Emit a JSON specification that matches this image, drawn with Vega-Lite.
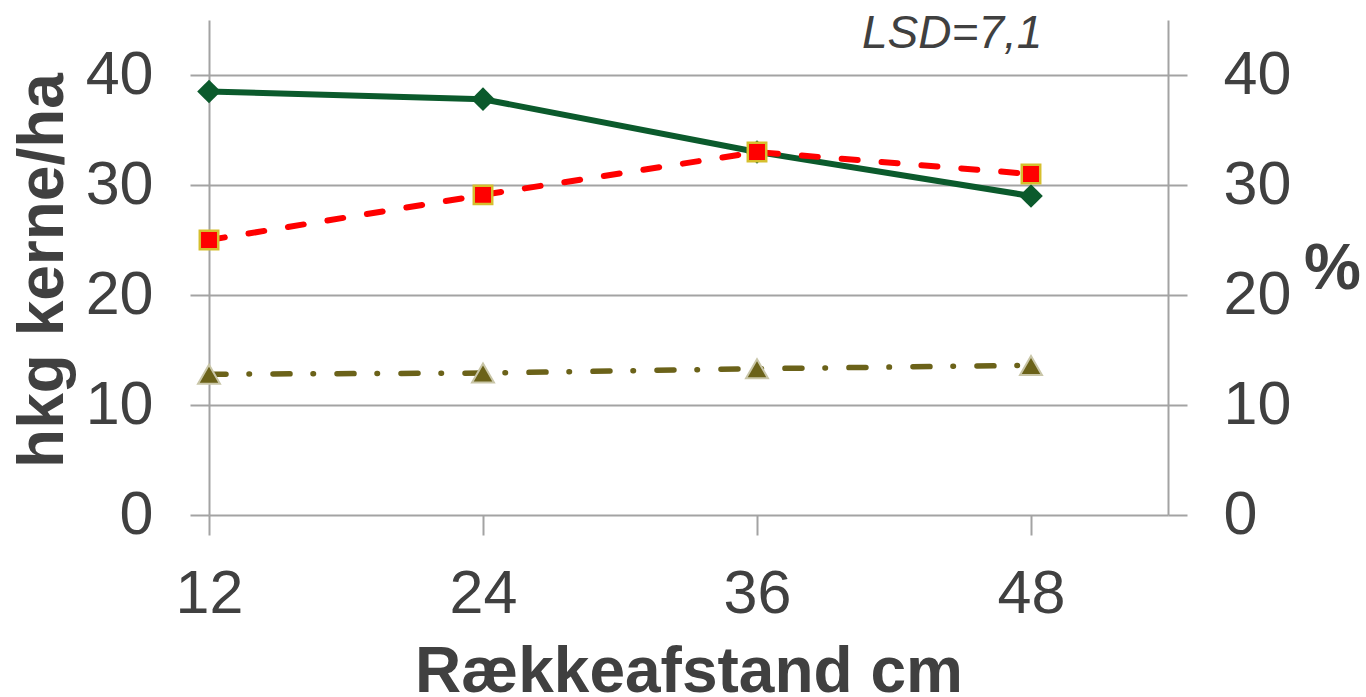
{
  "$schema": "https://vega.github.io/schema/vega-lite/v6.json",
  "width": 959,
  "height": 495,
  "autosize": {"type": "none"},
  "padding": {"left": 209, "top": 20, "right": 198, "bottom": 182},
  "background": "white",
  "config": {
    "view": {"stroke": null},
    "font": "Liberation Sans",
    "axis": {
      "labelFont": "Liberation Sans",
      "titleFont": "Liberation Sans",
      "labelColor": "#404040",
      "titleColor": "#404040",
      "labelFontSize": 61,
      "titleFontSize": 64,
      "titleFontWeight": "bold",
      "domainColor": "#a3a3a3",
      "domainWidth": 2,
      "tickColor": "#a3a3a3",
      "tickWidth": 2,
      "gridColor": "#a3a3a3",
      "gridWidth": 2
    }
  },
  "datasets": {
    "kerne": [
      {"afstand": 12, "hkg": 38.5},
      {"afstand": 24, "hkg": 37.8},
      {"afstand": 36, "hkg": 33.0},
      {"afstand": 48, "hkg": 29.0}
    ],
    "pct": [
      {"afstand": 12, "serie": "A", "pct": 25.0},
      {"afstand": 24, "serie": "A", "pct": 29.1},
      {"afstand": 36, "serie": "A", "pct": 33.0},
      {"afstand": 48, "serie": "A", "pct": 31.0},
      {"afstand": 12, "serie": "B", "pct": 12.8},
      {"afstand": 24, "serie": "B", "pct": 12.9},
      {"afstand": 36, "serie": "B", "pct": 13.3},
      {"afstand": 48, "serie": "B", "pct": 13.6}
    ],
    "note": [{"label": "LSD=7,1"}]
  },
  "layer": [
    {
      "data": {"name": "kerne"},
      "encoding": {
        "x": {
          "field": "afstand",
          "type": "quantitative",
          "scale": {"domain": [12, 54], "nice": false, "zero": false},
          "axis": {
            "values": [12, 24, 36, 48],
            "grid": false,
            "domain": false,
            "labelFlush": false,
            "labelOverlap": false,
            "tickSize": 20,
            "labelPadding": 29,
            "title": "Rækkeafstand cm",
            "titleBaseline": "alphabetic",
            "titleY": 176,
            "titleX": 479.5,
            "titleAlign": "center"
          }
        },
        "y": {
          "field": "hkg",
          "type": "quantitative",
          "scale": {"domain": [0, 45], "nice": false},
          "axis": {
            "orient": "left",
            "values": [0, 10, 20, 30, 40],
            "grid": true,
            "tickSize": 19,
            "labelPadding": 37,
            "title": "hkg kerne/ha",
            "titleAngle": -90,
            "titleBaseline": "middle",
            "titleAlign": "center",
            "titleX": -166,
            "titleY": 250
          }
        }
      },
      "layer": [
        {"mark": {"type": "line", "color": "#0b5a2c", "strokeWidth": 6}},
        {"mark": {"type": "point", "shape": "diamond", "filled": true, "size": 560, "color": "#0b5a2c", "opacity": 1}}
      ]
    },
    {
      "data": {"name": "pct"},
      "encoding": {
        "x": {"field": "afstand", "type": "quantitative"},
        "y": {
          "field": "pct",
          "type": "quantitative",
          "scale": {"domain": [0, 45], "nice": false},
          "axis": {
            "orient": "right",
            "values": [0, 10, 20, 30, 40],
            "grid": false,
            "tickSize": 19,
            "labelPadding": 36,
            "title": "%",
            "titleAngle": 0,
            "titleAlign": "center",
            "titleBaseline": "middle",
            "titleX": 164,
            "titleY": 249
          }
        }
      },
      "layer": [
        {
          "transform": [{"filter": "datum.serie === 'B'"}],
          "mark": {"type": "line", "color": "#6b6219", "strokeWidth": 5.5, "strokeCap": "round", "strokeDash": [17, 23, 0.5, 23.5]}
        },
        {
          "transform": [{"filter": "datum.serie === 'B'"}],
          "mark": {"type": "point", "shape": "triangle-up", "filled": true, "size": 480, "fill": "#6b6219", "stroke": "#c9c6a8", "strokeWidth": 2, "opacity": 1}
        },
        {
          "transform": [{"filter": "datum.serie === 'A'"}],
          "mark": {"type": "line", "color": "#ff0000", "strokeWidth": 6, "strokeCap": "round", "strokeDash": [16, 24]}
        },
        {
          "transform": [{"filter": "datum.serie === 'A'"}],
          "mark": {"type": "point", "shape": "square", "filled": true, "size": 340, "fill": "#ff0000", "stroke": "#d6bf2e", "strokeWidth": 2.5, "opacity": 1}
        }
      ]
    },
    {
      "data": {"name": "note"},
      "mark": {"type": "text", "align": "left", "baseline": "alphabetic", "fontSize": 46, "fontStyle": "italic", "font": "Liberation Sans", "color": "#404040"},
      "encoding": {
        "x": {"datum": 40.6, "type": "quantitative"},
        "y": {"datum": 42.45, "type": "quantitative", "scale": {"domain": [0, 45], "nice": false}, "axis": null},
        "text": {"field": "label"}
      }
    }
  ],
  "resolve": {"scale": {"y": "independent"}}
}
